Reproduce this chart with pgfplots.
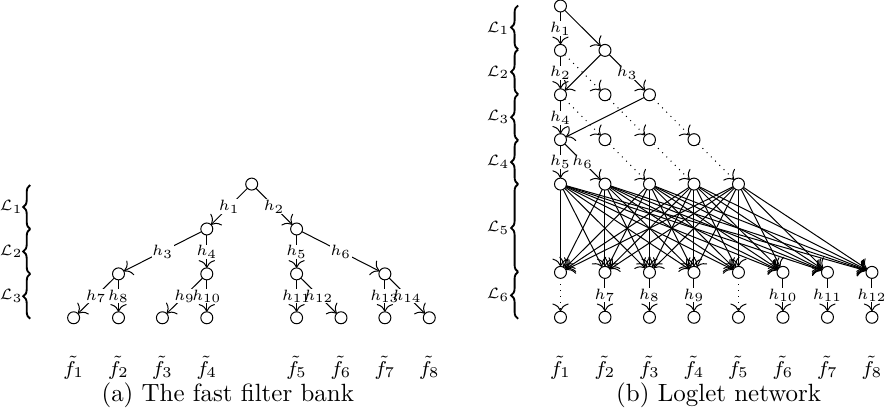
\documentclass[border=0pt]{standalone}
\usepackage{pgfplots}
\pgfplotsset{compat=1.18}
\usetikzlibrary{decorations.pathreplacing,arrows.meta}
\tikzset{
 e/.style={black,line width=0.4pt,-{To[scale=1.25]},shorten >=2.4pt,shorten <=2.4pt},
 d/.style={e,dotted},
 labbox/.style={fill=white,inner sep=0.2pt,text opacity=0,font=\fontsize{6}{7}\selectfont},
 labtxt/.style={inner sep=0.2pt,font=\fontsize{6}{7}\selectfont},
 flab/.style={inner sep=0pt,font=\fontsize{8}{9}\selectfont},
 llab/.style={inner sep=0pt,font=\fontsize{6}{7}\selectfont},
 br/.style={decorate,decoration={brace,amplitude=2.8pt},line width=0.75pt},
 nd/.style={only marks,mark=*,mark size=2.4pt,mark options={fill=white,draw=black,line width=0.4pt}}
}
\newcommand\E[5][e]{\addplot[#1] coordinates {(#2,#3) (#4,#5)};}
\newcommand\Hlabels[1]{%
\node[#1] at (axis cs:231.5,209.5) {$h_{1}$};
\node[#1] at (axis cs:276.5,209.5) {$h_{2}$};
\node[#1] at (axis cs:164.8,255) {$h_{3}$};
\node[#1] at (axis cs:209,255) {$h_{4}$};
\node[#1] at (axis cs:299,255) {$h_{5}$};
\node[#1] at (axis cs:343.3,255) {$h_{6}$};
\node[#1] at (axis cs:98,299.5) {$h_{7}$};
\node[#1] at (axis cs:120.5,299.5) {$h_{8}$};
\node[#1] at (axis cs:186.8,299.5) {$h_{9}$};
\node[#1] at (axis cs:209,299.5) {$h_{10}$};
\node[#1] at (axis cs:299,299.5) {$h_{11}$};
\node[#1] at (axis cs:321.3,299.5) {$h_{12}$};
\node[#1] at (axis cs:387.5,299.5) {$h_{13}$};
\node[#1] at (axis cs:409.8,299.5) {$h_{14}$};
\node[#1] at (axis cs:563.5,31) {$h_{1}$};
\node[#1] at (axis cs:563.5,75.5) {$h_{2}$};
\node[#1] at (axis cs:630.4,75.5) {$h_{3}$};
\node[#1] at (axis cs:563.5,120.5) {$h_{4}$};
\node[#1] at (axis cs:563.5,165) {$h_{5}$};
\node[#1] at (axis cs:585.8,165) {$h_{6}$};
\node[#1] at (axis cs:608.1,298.5) {$h_{7}$};
\node[#1] at (axis cs:652.7,298.5) {$h_{8}$};
\node[#1] at (axis cs:697.3,298.5) {$h_{9}$};
\node[#1] at (axis cs:786.5,298.5) {$h_{10}$};
\node[#1] at (axis cs:831.1,298.5) {$h_{11}$};
\node[#1] at (axis cs:875.7,298.5) {$h_{12}$};
}
\begin{document}
\begin{tikzpicture}
\begin{axis}[x=0.4pt,y=0.4pt,xmin=0,xmax=887,ymin=0,ymax=425,y dir=reverse,hide axis,clip=false]
% ---------------- (a) fast filter bank ----------------
\E{254}{187}{209}{232}
\E{254}{187}{299}{232}
\E{209}{232}{120.5}{277}
\E{209}{232}{209}{277}
\E{299}{232}{299}{277}
\E{299}{232}{387.5}{277}
\E{120.5}{277}{75.5}{321}
\E{120.5}{277}{120.5}{321}
\E{209}{277}{164.5}{321}
\E{209}{277}{209}{321}
\E{299}{277}{299}{321}
\E{299}{277}{343.5}{321}
\E{387.5}{277}{387.5}{321}
\E{387.5}{277}{432}{321}
\addplot[nd] coordinates {(254,187) (209,232) (299,232) (120.5,277) (209,277) (299,277) (387.5,277)
 (75.5,321) (120.5,321) (164.5,321) (209,321) (299,321) (343.5,321) (387.5,321) (432,321)};
% ---------------- (b) loglet network ----------------
\E{563.5}{8.5}{563.5}{53}
\E{563.5}{8.5}{608.1}{53}
\E{563.5}{53}{563.5}{97.5}
\E[d]{563.5}{53}{608.1}{97.5}
\E{608.1}{53}{563.5}{97.5}
\E{608.1}{53}{652.7}{97.5}
\E{563.5}{97.5}{563.5}{142.5}
\E[d]{563.5}{97.5}{608.1}{142.5}
\E[d]{608.1}{97.5}{652.7}{142.5}
\E{652.7}{97.5}{563.5}{142.5}
\E[d]{652.7}{97.5}{697.3}{142.5}
\E{563.5}{142.5}{563.5}{187}
\E{563.5}{142.5}{608.1}{187}
\E[d]{608.1}{142.5}{652.7}{187}
\E[d]{652.7}{142.5}{697.3}{187}
\E[d]{697.3}{142.5}{741.9}{187}
% row 4 -> row 5 (complete)
\E{563.5}{187}{563.5}{275.5}
\E{563.5}{187}{608.1}{275.5}
\E{563.5}{187}{652.7}{275.5}
\E{563.5}{187}{697.3}{275.5}
\E{563.5}{187}{741.9}{275.5}
\E{563.5}{187}{786.5}{275.5}
\E{563.5}{187}{831.1}{275.5}
\E{563.5}{187}{875.7}{275.5}
\E{608.1}{187}{563.5}{275.5}
\E{608.1}{187}{608.1}{275.5}
\E{608.1}{187}{652.7}{275.5}
\E{608.1}{187}{697.3}{275.5}
\E{608.1}{187}{741.9}{275.5}
\E{608.1}{187}{786.5}{275.5}
\E{608.1}{187}{831.1}{275.5}
\E{608.1}{187}{875.7}{275.5}
\E{652.7}{187}{563.5}{275.5}
\E{652.7}{187}{608.1}{275.5}
\E{652.7}{187}{652.7}{275.5}
\E{652.7}{187}{697.3}{275.5}
\E{652.7}{187}{741.9}{275.5}
\E{652.7}{187}{786.5}{275.5}
\E{652.7}{187}{831.1}{275.5}
\E{652.7}{187}{875.7}{275.5}
\E{697.3}{187}{563.5}{275.5}
\E{697.3}{187}{608.1}{275.5}
\E{697.3}{187}{652.7}{275.5}
\E{697.3}{187}{697.3}{275.5}
\E{697.3}{187}{741.9}{275.5}
\E{697.3}{187}{786.5}{275.5}
\E{697.3}{187}{831.1}{275.5}
\E{697.3}{187}{875.7}{275.5}
\E{741.9}{187}{563.5}{275.5}
\E{741.9}{187}{608.1}{275.5}
\E{741.9}{187}{652.7}{275.5}
\E{741.9}{187}{697.3}{275.5}
\E{741.9}{187}{741.9}{275.5}
\E{741.9}{187}{786.5}{275.5}
\E{741.9}{187}{831.1}{275.5}
\E{741.9}{187}{875.7}{275.5}
% row 5 -> row 6
\E[d]{563.5}{275.5}{563.5}{320.5}
\E{608.1}{275.5}{608.1}{320.5}
\E{652.7}{275.5}{652.7}{320.5}
\E{697.3}{275.5}{697.3}{320.5}
\E[d]{741.9}{275.5}{741.9}{320.5}
\E{786.5}{275.5}{786.5}{320.5}
\E{831.1}{275.5}{831.1}{320.5}
\E{875.7}{275.5}{875.7}{320.5}
\addplot[nd] coordinates {(563.5,8.5)
 (563.5,53) (608.1,53)
 (563.5,97.5) (608.1,97.5) (652.7,97.5)
 (563.5,142.5) (608.1,142.5) (652.7,142.5) (697.3,142.5)
 (563.5,187) (608.1,187) (652.7,187) (697.3,187) (741.9,187)
 (563.5,275.5) (608.1,275.5) (652.7,275.5) (697.3,275.5) (741.9,275.5) (786.5,275.5) (831.1,275.5) (875.7,275.5)
 (563.5,320.5) (608.1,320.5) (652.7,320.5) (697.3,320.5) (741.9,320.5) (786.5,320.5) (831.1,320.5) (875.7,320.5)};
% h labels: white boxes first, then text
\Hlabels{labbox}
\Hlabels{labtxt}
% f labels
\node[flab] at (axis cs:75.5,371) {$\tilde f_1$};
\node[flab] at (axis cs:120.5,371) {$\tilde f_2$};
\node[flab] at (axis cs:164.5,371) {$\tilde f_3$};
\node[flab] at (axis cs:209,371) {$\tilde f_4$};
\node[flab] at (axis cs:299,371) {$\tilde f_5$};
\node[flab] at (axis cs:343.5,371) {$\tilde f_6$};
\node[flab] at (axis cs:387.5,371) {$\tilde f_7$};
\node[flab] at (axis cs:432,371) {$\tilde f_8$};
\node[flab] at (axis cs:563.5,371) {$\tilde f_1$};
\node[flab] at (axis cs:608.1,371) {$\tilde f_2$};
\node[flab] at (axis cs:652.7,371) {$\tilde f_3$};
\node[flab] at (axis cs:697.3,371) {$\tilde f_4$};
\node[flab] at (axis cs:741.9,371) {$\tilde f_5$};
\node[flab] at (axis cs:786.5,371) {$\tilde f_6$};
\node[flab] at (axis cs:831.1,371) {$\tilde f_7$};
\node[flab] at (axis cs:875.7,371) {$\tilde f_8$};
% braces (a)
\draw[br] (axis cs:32,232) -- (axis cs:32,188);
\draw[br] (axis cs:32,277) -- (axis cs:32,232);
\draw[br] (axis cs:32,322) -- (axis cs:32,277);
\node[llab] at (axis cs:13,210) {$\mathcal{L}_1$};
\node[llab] at (axis cs:13,254.5) {$\mathcal{L}_2$};
\node[llab] at (axis cs:13,299.5) {$\mathcal{L}_3$};
% braces (b)
\draw[br] (axis cs:521,52) -- (axis cs:521,8);
\draw[br] (axis cs:521,97) -- (axis cs:521,52);
\draw[br] (axis cs:521,143) -- (axis cs:521,97);
\draw[br] (axis cs:521,187) -- (axis cs:521,143);
\draw[br] (axis cs:521,275) -- (axis cs:521,187);
\draw[br] (axis cs:521,322) -- (axis cs:521,275);
\node[llab] at (axis cs:501,31) {$\mathcal{L}_1$};
\node[llab] at (axis cs:501,75) {$\mathcal{L}_2$};
\node[llab] at (axis cs:501,120) {$\mathcal{L}_3$};
\node[llab] at (axis cs:501,165) {$\mathcal{L}_4$};
\node[llab] at (axis cs:501,231) {$\mathcal{L}_5$};
\node[llab] at (axis cs:501,298.5) {$\mathcal{L}_6$};
% captions
\node[inner sep=0pt] at (axis cs:230,399) {(a) The fast filter bank};
\node[inner sep=0pt] at (axis cs:722,399) {(b) Loglet network};
\end{axis}
\end{tikzpicture}
\end{document}
